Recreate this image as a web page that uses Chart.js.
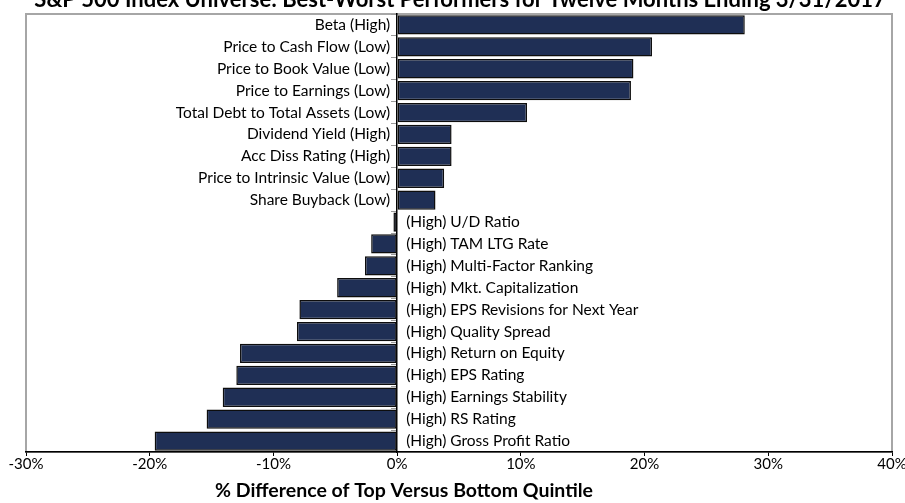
<!DOCTYPE html>
<html>
<head>
<meta charset="utf-8">
<script src="https://cdn.jsdelivr.net/npm/chart.js@4/dist/chart.umd.min.js"></script>
<style>
  body { margin: 0; background: #fff; }
  #wrap { width: 905px; height: 503px; }
</style>
</head>
<body>
<div id="wrap"><canvas id="myChart" width="905" height="503"></canvas></div>
<script>
const chartTitle = 'S&P 500 Index Universe: Best-Worst Performers for Twelve Months Ending 3/31/2017';
const axisTitle = '% Difference of Top Versus Bottom Quintile';

const factors = [
  'Beta (High)',
  'Price to Cash Flow (Low)',
  'Price to Book Value (Low)',
  'Price to Earnings (Low)',
  'Total Debt to Total Assets (Low)',
  'Dividend Yield (High)',
  'Acc Diss Rating (High)',
  'Price to Intrinsic Value (Low)',
  'Share Buyback (Low)',
  '(High) U/D Ratio',
  '(High) TAM LTG Rate',
  '(High) Multi-Factor Ranking',
  '(High) Mkt. Capitalization',
  '(High) EPS Revisions for Next Year',
  '(High) Quality Spread',
  '(High) Return on Equity',
  '(High) EPS Rating',
  '(High) Earnings Stability',
  '(High) RS Rating',
  '(High) Gross Profit Ratio'
];

// % difference, top vs bottom quintile
const spread = [
  28.1, 20.6, 19.1, 18.9, 10.5, 4.4, 4.4, 3.8, 3.1,
  -0.3, -2.1, -2.6, -4.85, -7.9, -8.1, -12.7, -13.0, -14.1, -15.4, -19.6
];

const xMin = -30, xMax = 40, xStep = 10;

const FONT = 'Lato, "Open Sans", sans-serif';

// grey frame round the plot, the cut-off title and the axis title
const frame = {
  id: 'frame',
  beforeDraw(chart) {
    const { ctx, chartArea: a } = chart;
    ctx.save();
    ctx.strokeStyle = '#a6a6a6';
    ctx.lineWidth = 2;
    ctx.strokeRect(a.left, a.top, a.right - a.left, a.bottom - a.top);
    ctx.fillStyle = '#000';
    ctx.font = 'bold 22px ' + FONT;
    ctx.textAlign = 'center';
    ctx.textBaseline = 'alphabetic';
    ctx.fillText(chartTitle, 460, 7);
    // axis title sits off-centre in the original
    ctx.font = 'bold 19.5px ' + FONT;
    ctx.textBaseline = 'middle';
    ctx.fillText(axisTitle, 404, 491);
    ctx.restore();
  }
};

// category labels sit beside the zero line, on the side away from the bar
const sideLabels = {
  id: 'sideLabels',
  afterDatasetsDraw(chart) {
    const { ctx } = chart;
    const meta = chart.getDatasetMeta(0);
    const x0 = chart.scales.x.getPixelForValue(0);
    ctx.save();
    ctx.font = '15.5px ' + FONT;
    ctx.fillStyle = '#000';
    ctx.textBaseline = 'middle';
    for (let i = 0; i < factors.length; i++) {
      const y = meta.data[i].y;
      if (spread[i] >= 0) {
        ctx.textAlign = 'right';
        ctx.fillText(factors[i], x0 - 7, y);
      } else {
        ctx.textAlign = 'left';
        ctx.fillText(factors[i], x0 + 9, y);
      }
    }
    ctx.restore();
  }
};

const ctx = document.getElementById('myChart');

new Chart(ctx, {
  type: 'bar',
  data: {
    labels: factors,
    datasets: [{
      data: spread,
      backgroundColor: '#1f2f55',
      borderColor: '#0d0d0d',
      borderWidth: 1.5,
      borderSkipped: false,
      barPercentage: 0.88,
      categoryPercentage: 1
    }]
  },
  options: {
    indexAxis: 'y',
    responsive: false,
    animation: false,
    layout: { padding: { left: 26, right: 13, top: 14, bottom: 30.5 } },
    plugins: {
      legend: { display: false },
      tooltip: { enabled: false }
    },
    scales: {
      x: {
        min: xMin,
        max: xMax,
        grid: { drawOnChartArea: false, tickLength: 4, color: '#000' },
        border: { color: '#000', width: 1.5 },
        ticks: {
          stepSize: xStep,
          padding: 0,
          color: '#000',
          font: { family: FONT, size: 15, lineHeight: 1.1 },
          callback: v => v + '%'
        },
        // let the end labels overhang the edge, as in the original
        afterFit(scale) {
          scale.paddingLeft = 0;
          scale.paddingRight = 0;
        }
      },
      y: {
        position: { x: 0 },
        offset: true,
        grid: { drawOnChartArea: false, tickLength: 5, color: '#999', offset: true },
        border: { color: '#000', width: 1.5 },
        ticks: { display: false }
      }
    }
  },
  plugins: [frame, sideLabels]
});
</script>
</body>
</html>
